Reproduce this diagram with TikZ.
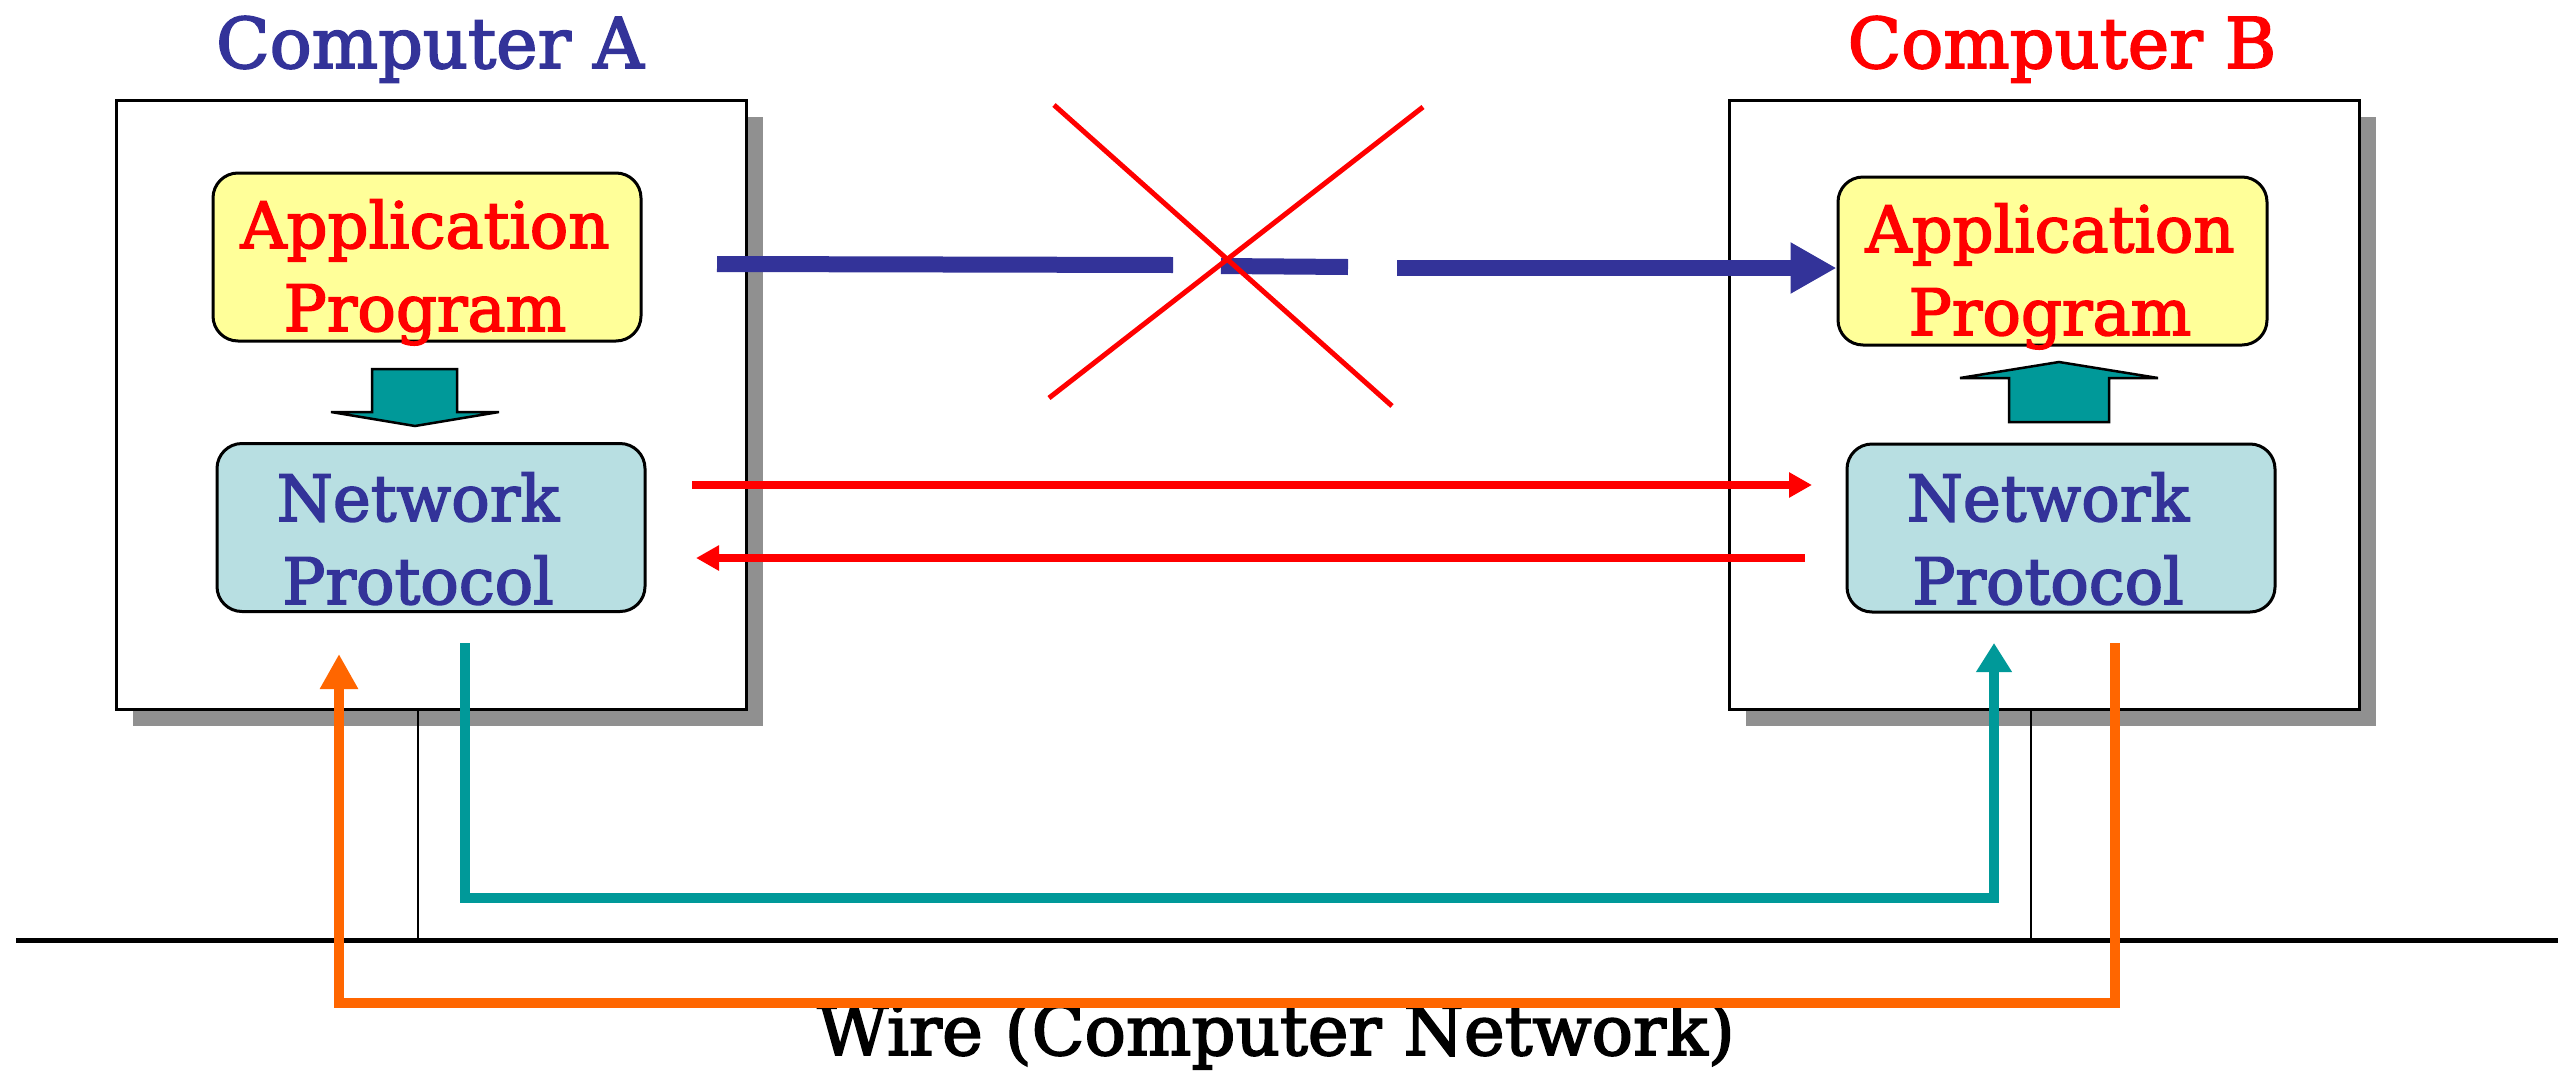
\documentclass[tikz,border=0pt]{standalone}
\usepackage{fontspec}
\setmainfont[FakeBold=2.5,AutoFakeBold=0]{DejaVu Serif}
\newfontfamily\heavyfont[FakeBold=2.5]{DejaVu Serif}
\usetikzlibrary{arrows.meta,shadows}
\definecolor{navy}{HTML}{333399}
\definecolor{redc}{HTML}{FF0000}
\definecolor{appfill}{HTML}{FFFF99}
\definecolor{npfill}{HTML}{B8DFE2}
\definecolor{tealc}{HTML}{009999}
\definecolor{orangec}{HTML}{FF6600}
\definecolor{shadowc}{HTML}{909090}
\begin{document}
\begin{tikzpicture}[x=1pt,y=-1pt,
  computer/.style={draw=black, line width=3, fill=white, inner sep=0,
    minimum width=630, minimum height=609,
    drop shadow={shadow xshift=17pt, shadow yshift=-17pt, fill=shadowc, opacity=1}},
  layerbox/.style={draw=black, line width=3, rounded corners=25, inner sep=0,
    minimum width=428, minimum height=168},
  appbox/.style={layerbox, fill=appfill},
  npbox/.style={layerbox, fill=npfill},
  titletext/.style={font=\heavyfont\fontsize{70}{84}\selectfont, inner sep=0, anchor=base},
  layertext/.style={font=\heavyfont\fontsize{64}{83}\selectfont, inner sep=0, anchor=base, align=center},
  blockarrow/.style={fill=tealc, draw=black, line width=2.5, line join=miter},
  bluearrow/.style={draw=navy, line width=16},
  redarrow/.style={draw=redc, line width=8, -{Triangle[length=23pt,width=24pt]}},
  crossline/.style={draw=redc, line width=5},
  tealline/.style={draw=tealc, line width=10.5, line join=miter, -{Triangle[length=29pt,width=34pt]}},
  orangeline/.style={draw=orangec, line width=10.5, line join=miter, -{Triangle[length=35pt,width=36pt]}},
]
\useasboundingbox (0,0) rectangle (2558,1071);

% computers
\node[computer] (compA) at (431,404.5) {};
\node[computer] (compB) at (2044,404.5) {};

% titles
\node[titletext, text=navy] (titleA) at (430,68) {Computer A};
\node[titletext, text=redc] (titleB) at (2062,68) {Computer B};

% wire and taps
\coordinate (wireL) at (16,940);
\coordinate (wireR) at (2558,940);
\draw[line width=5] (wireL) -- (wireR);
\coordinate (tapA) at (418,709);
\coordinate (tapB) at (2031,709);
\draw[line width=2] (tapA) -- (tapA |- wireL);
\draw[line width=2] (tapB) -- (tapB |- wireL);

% layer boxes
\node[appbox] (appA) at (427,257) {};
\node[npbox] (npA) at (431,527.5) {};
\node[appbox, minimum width=429] (appB) at (2052.5,261) {};
\node[npbox] (npB) at (2061,528) {};

% (base anchor = baseline of the last line)
\node[layertext, text=redc] (appAt) at (425,331) {Application\\Program};
\node[layertext, text=navy] (npAt) at (418,604) {Network\\Protocol};
\node[layertext, text=redc] (appBt) at (2050,335) {Application\\Program};
\node[layertext, text=navy] (npBt) at (2048,604) {Network\\Protocol};

% block arrows
\draw[blockarrow] (372,369) -- (457,369) -- (457,412) -- (499,412) -- (415,426)
  -- (331,412) -- (372,412) -- cycle;
\draw[blockarrow] (2009,422) -- (2109,422) -- (2109,378) -- (2158,378) -- (2059,362)
  -- (1960,378) -- (2009,378) -- cycle;

% blue broken arrow
\coordinate (blueS) at (717,264);
\coordinate (blueG1) at (1173,265);
\coordinate (blueG2) at (1221,266);
\coordinate (blueG3) at (1348,267);
\coordinate (blueG4) at (1397,268);
\draw[bluearrow] (blueS) -- (blueG1);
\draw[bluearrow] (blueG2) -- (blueG3);
\draw[bluearrow, -{Triangle[length=46pt,width=48pt]}] (blueG4) -- (appB.west |- blueG4);

% red cross
\coordinate (x1a) at (1054,105);
\coordinate (x1b) at (1392,406);
\coordinate (x2a) at (1423,107);
\coordinate (x2b) at (1049,398);
\draw[crossline] (x1a) -- (x1b);
\draw[crossline] (x2a) -- (x2b);

% red arrows
\coordinate (r1s) at (692,485);
\coordinate (r1e) at (1812,485);
\coordinate (r2s) at (1805,558);
\coordinate (r2e) at (696,558);
\draw[redarrow] (r1s) -- (r1e);
\draw[redarrow] (r2s) -- (r2e);

% wire label
\node[titletext, font=\heavyfont\fontsize{69}{83}\selectfont] (wiret) at (1276,1055) {Wire (Computer Network)};

% teal and orange paths
\coordinate (tealS) at (465,643);
\coordinate (tealE) at (1994,643);
\draw[tealline] (tealS) -- ++(0,255) -| (tealE);
\coordinate (orS) at (2115,643);
\coordinate (orE) at (339,654);
\draw[orangeline] (orS) -- ++(0,360) -| (orE);
\end{tikzpicture}
\end{document}
